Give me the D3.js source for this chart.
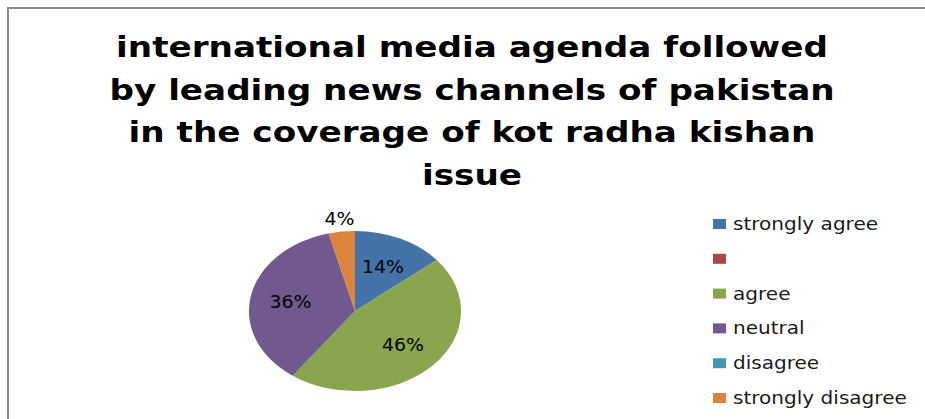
<!DOCTYPE html>
<html>
<head>
<meta charset="utf-8">
<script src="https://cdn.jsdelivr.net/npm/d3@7"></script>
<style>
  html, body { margin: 0; padding: 0; background: #fff; }
  svg { display: block; }
</style>
</head>
<body>
<svg id="chart" width="925" height="419"></svg>
<script>
// Survey answers and their shares of responses
const categories = ["strongly agree", "", "agree", "neutral", "disagree", "strongly disagree"];
const shares = [14, 0, 46, 36, 0, 4];
const colors = ["#4572A7", "#AA4643", "#89A54E", "#71588F", "#4198AF", "#DB843D"];
const titleLines = [
  "international media agenda followed",
  "by leading news channels of pakistan",
  "in the coverage of kot radha kishan",
  "issue"
];

const svg = d3.select("#chart");
const W = 925, H = 419;
const stretch = 1.18;          // horizontal widening applied to text
const FONT = "'DejaVu Sans', sans-serif";

// chart area frame
svg.append("rect")
  .attr("x", 8).attr("y", 8)
  .attr("width", W + 20).attr("height", H + 20)
  .attr("fill", "#fff")
  .attr("stroke", "#8a8a8a")
  .attr("stroke-width", 2);

// title
const titleG = svg.append("g");
titleLines.forEach((line, i) => {
  titleG.append("text")
    .attr("transform", `translate(472, ${57 + i * 42.7}) scale(${stretch},1)`)
    .attr("text-anchor", "middle")
    .attr("font-family", FONT)
    .attr("font-weight", "bold")
    .attr("font-size", 29)
    .attr("fill", "#000")
    .text(line);
});

// pie, drawn on a unit circle and widened into an ellipse
const cx = 355, cy = 311, rx = 106, ry = 80;
const data = categories.map((c, i) => ({ name: c, value: shares[i], color: colors[i] }));
const pie = d3.pie().sort(null).value(d => d.value);
const arcs = pie(data);
const unitArc = d3.arc().innerRadius(0).outerRadius(1);

const pieG = svg.append("g").attr("transform", `translate(${cx},${cy})`);
pieG.selectAll("path")
  .data(arcs.filter(a => a.data.value > 0))
  .join("path")
  .attr("transform", `scale(${rx},${ry})`)
  .attr("d", unitArc)
  .attr("fill", d => d.data.color);

// percentage labels: inside the slice, or just outside for thin slices
const total = d3.sum(shares);
arcs.filter(a => a.data.value > 0).forEach(a => {
  const frac = a.data.value / total;
  const r = frac < 0.06 ? 1.17 : 0.62;
  const [ux, uy] = d3.arc().innerRadius(r).outerRadius(r).centroid(a);
  pieG.append("text")
    .attr("transform", `translate(${ux * rx},${uy * ry}) scale(1.05,1)`)
    .attr("text-anchor", "middle")
    .attr("dy", "0.36em")
    .attr("font-family", FONT)
    .attr("font-size", 18)
    .attr("fill", "#000")
    .text(d3.format(".0%")(frac));
});

// legend
const legendY = d3.scalePoint().domain(d3.range(categories.length)).range([224, 398]);
const legend = svg.append("g");
data.forEach((d, i) => {
  const y = legendY(i);
  legend.append("rect")
    .attr("x", 713).attr("y", y - 5)
    .attr("width", 13).attr("height", 10)
    .attr("fill", d.color);
  legend.append("text")
    .attr("transform", `translate(733, ${y}) scale(${stretch},1)`)
    .attr("dy", "0.35em")
    .attr("font-family", FONT)
    .attr("font-size", 17)
    .attr("fill", "#1a1a1a")
    .text(d.name);
});
</script>
</body>
</html>
